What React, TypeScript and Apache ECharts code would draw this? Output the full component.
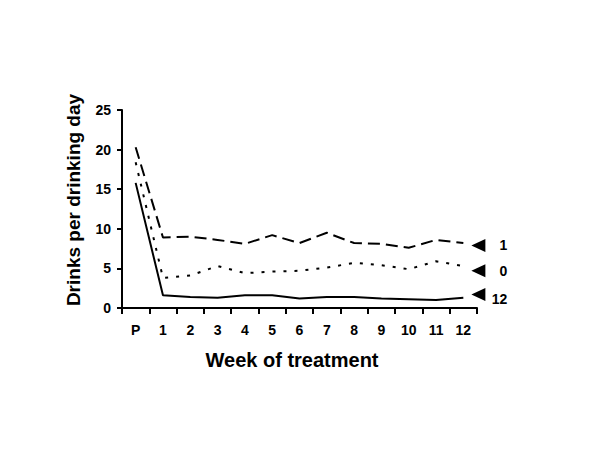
import React, { useEffect, useRef } from "react";
import * as echarts from "echarts";

const categories = ["P", "1", "2", "3", "4", "5", "6", "7", "8", "9", "10", "11", "12"];
const group1 = [20.3, 8.9, 9.0, 8.6, 8.1, 9.2, 8.2, 9.5, 8.2, 8.1, 7.6, 8.6, 8.2];
const group0 = [18.4, 3.8, 4.1, 5.3, 4.4, 4.6, 4.7, 5.1, 5.7, 5.4, 4.9, 5.9, 5.3];
const group12 = [15.8, 1.6, 1.4, 1.3, 1.6, 1.6, 1.2, 1.4, 1.4, 1.2, 1.1, 1.0, 1.3];
const seriesNames = ["1", "0", "12"];
const markerValues = [7.9, 4.7, 1.7];
const yTicks = [0, 5, 10, 15, 20, 25];

const FONT = "'Liberation Sans', Arial, sans-serif";

export default function App() {
  const ref = useRef<HTMLDivElement>(null);
  useEffect(() => {
    if (!ref.current) return;
    const chart = echarts.init(ref.current, null, { renderer: "svg" });
    const dashTypes: any[] = [[12, 6], [3, 8], "solid"];
    const datasets = [group1, group0, group12];
    const labelOffsetY = [0, 0, 4];
    chart.setOption({
      animation: false,
      backgroundColor: "#ffffff",
      grid: { left: 114, right: 131, top: 102, bottom: 150 },
      xAxis: {
        type: "category",
        data: categories,
        boundaryGap: true,
        axisLine: { lineStyle: { color: "#000", width: 2 } },
        axisTick: { show: true, length: 6, lineStyle: { color: "#000", width: 2 } },
        axisLabel: { color: "#000", fontFamily: FONT, fontWeight: "bold", fontSize: 14, margin: 15 },
      },
      yAxis: {
        type: "value",
        min: yTicks[0],
        max: yTicks[yTicks.length - 1],
        interval: 5,
        splitLine: { show: false },
        axisLine: { show: true, lineStyle: { color: "#000", width: 2 } },
        axisTick: { show: true, length: 5, lineStyle: { color: "#000", width: 2 } },
        axisLabel: { color: "#000", fontFamily: FONT, fontWeight: "bold", fontSize: 14, margin: 11 },
      },
      graphic: [
        {
          type: "text",
          x: 65,
          y: 192,
          rotation: Math.PI / 2,
          style: {
            text: "Drinks per drinking day",
            fill: "#000",
            font: `bold 19px ${FONT}`,
            textAlign: "center",
            textVerticalAlign: "middle",
          },
        },
        {
          type: "text",
          x: 284,
          y: 352,
          style: {
            text: "Week of treatment",
            fill: "#000",
            font: `bold 20px ${FONT}`,
            textAlign: "center",
            textVerticalAlign: "middle",
          },
        },
      ],
      series: datasets.map((d, i) => ({
        name: seriesNames[i],
        type: "line",
        data: d,
        symbol: "none",
        lineStyle: { color: "#000", width: 2, type: dashTypes[i] },
        markPoint: {
          symbol: "triangle",
          symbolSize: [13, 14],
          symbolRotate: 90,
          symbolOffset: [15, 0],
          itemStyle: { color: "#000" },
          label: {
            show: true,
            formatter: seriesNames[i],
            position: "inside",
            align: "right",
            verticalAlign: "middle",
            offset: [29, labelOffsetY[i]],
            color: "#000",
            fontFamily: FONT,
            fontWeight: "bold",
            fontSize: 14,
          },
          data: [{ coord: [categories[categories.length - 1], markerValues[i]] }],
        },
      })),
    });
    return () => chart.dispose();
  }, []);
  return <div ref={ref} style={{ width: 600, height: 450 }} />;
}
